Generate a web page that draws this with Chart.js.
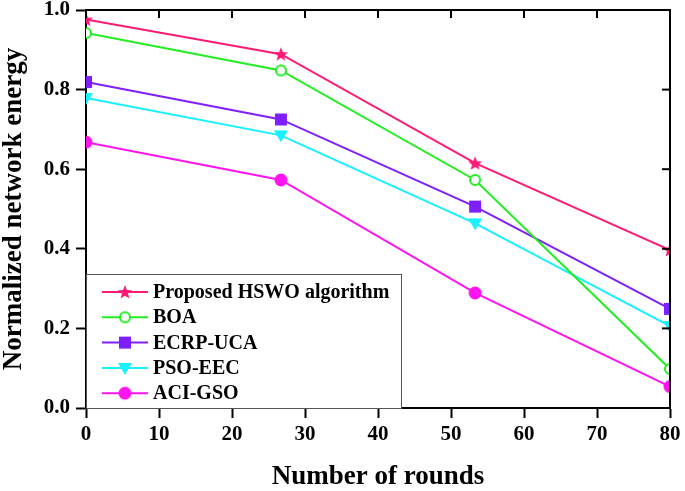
<!DOCTYPE html>
<html>
<head>
<meta charset="UTF-8">
<title>Normalized network energy</title>
<script src="https://cdn.jsdelivr.net/npm/chart.js@4"></script>
<style>
  body { margin: 0; background: #fff; }
  #wrap { width: 685px; height: 491px; }
</style>
</head>
<body>
<div id="wrap"><canvas id="energyChart"></canvas></div>
<script>
// data
const rounds = [0, 26.7, 53.3, 80];
const seriesNames = ["Proposed HSWO algorithm", "BOA", "ECRP-UCA", "PSO-EEC", "ACI-GSO"];
const hswo  = [0.976, 0.889, 0.615, 0.397];
const boa   = [0.942, 0.848, 0.573, 0.098];
const ecrp  = [0.819, 0.725, 0.506, 0.249];
const pso   = [0.779, 0.685, 0.464, 0.206];
const acigso = [0.668, 0.573, 0.289, 0.054];
const xTicks = [0, 10, 20, 30, 40, 50, 60, 70, 80];
const yTicks = [0.0, 0.2, 0.4, 0.6, 0.8, 1.0];

const FONT = '"Liberation Serif", "Times New Roman", serif';

// marker images
function makeMarker(type, color) {
  const c = document.createElement('canvas');
  c.width = 16; c.height = 16;
  const g = c.getContext('2d');
  g.fillStyle = color; g.strokeStyle = color;
  const cx = 8, cy = 8;
  if (type === 'star') {
    g.beginPath();
    for (let i = 0; i < 10; i++) {
      const r = i % 2 === 0 ? 7.5 : 3.2;
      const a = -Math.PI / 2 + i * Math.PI / 5;
      g.lineTo(cx + r * Math.cos(a), cy + 0.5 + r * Math.sin(a));
    }
    g.closePath(); g.fill();
  } else if (type === 'ocircle') {
    g.beginPath(); g.arc(cx, cy, 5, 0, Math.PI * 2);
    g.fillStyle = '#fff'; g.fill();
    g.lineWidth = 2; g.stroke();
  } else if (type === 'square') {
    g.fillRect(cx - 6, cy - 6, 12, 12);
  } else if (type === 'down') {
    g.beginPath(); g.moveTo(cx - 7, cy - 5); g.lineTo(cx + 7, cy - 5); g.lineTo(cx, cy + 7);
    g.closePath(); g.fill();
  } else {
    g.beginPath(); g.arc(cx, cy, 6.5, 0, Math.PI * 2); g.fill();
  }
  return c;
}

const colors = ['#ff1a75', '#22ee22', '#7f1fff', '#18f0ff', '#ff14f0'];
const markers = ['star', 'ocircle', 'square', 'down', 'dot'].map((t, i) => makeMarker(t, colors[i]));
const values = [hswo, boa, ecrp, pso, acigso];

const datasets = seriesNames.map((name, i) => ({
  label: name,
  data: rounds.map((r, k) => ({ x: r, y: values[i][k] })),
  borderColor: colors[i],
  backgroundColor: colors[i],
  borderWidth: 2,
  pointStyle: markers[i],
  pointRadius: 7,
  tension: 0,
  clip: 0
}));

// frame, inner ticks on top/right, and boxed legend
const framePlugin = {
  id: 'frame',
  afterDraw(chart) {
    const { ctx, chartArea: a, scales } = chart;
    ctx.save();
    // legend
    const lx = a.left, ly = 274, lw = 315, lh = a.bottom - 274;
    ctx.fillStyle = '#fff';
    ctx.fillRect(lx, ly, lw, lh);
    ctx.strokeStyle = '#555'; ctx.lineWidth = 1;
    ctx.strokeRect(lx + 0.5, ly + 0.5, lw, lh);
    ctx.font = 'bold 20px ' + FONT;
    ctx.textBaseline = 'middle';
    seriesNames.forEach((name, i) => {
      const y = 292 + i * 25.3;
      ctx.strokeStyle = colors[i]; ctx.lineWidth = 2;
      ctx.beginPath(); ctx.moveTo(lx + 16, y); ctx.lineTo(lx + 62, y); ctx.stroke();
      ctx.drawImage(markers[i], lx + 39 - 8, y - 8);
      ctx.fillStyle = '#000';
      ctx.fillText(name, lx + 67, y + 1);
    });
    // top and right borders
    ctx.strokeStyle = '#000'; ctx.lineWidth = 2;
    ctx.beginPath();
    ctx.moveTo(a.left, a.top); ctx.lineTo(a.right, a.top); ctx.lineTo(a.right, a.bottom);
    ctx.stroke();
    xTicks.forEach(v => {
      const px = scales.x.getPixelForValue(v);
      ctx.beginPath(); ctx.moveTo(px, a.top); ctx.lineTo(px, a.top + 8); ctx.stroke();
    });
    yTicks.forEach(v => {
      const py = scales.y.getPixelForValue(v);
      ctx.beginPath(); ctx.moveTo(a.right, py); ctx.lineTo(a.right - 8, py); ctx.stroke();
    });
    ctx.restore();
  }
};

new Chart(document.getElementById('energyChart'), {
  type: 'line',
  data: { datasets },
  options: {
    responsive: true,
    maintainAspectRatio: false,
    animation: false,
    devicePixelRatio: 1,
    layout: { padding: { top: 10, right: 15, left: 0, bottom: 0 } },
    plugins: { legend: { display: false }, tooltip: { enabled: false } },
    scales: {
      x: {
        type: 'linear', min: 0, max: 80,
        afterBuildTicks: s => { s.ticks = xTicks.map(v => ({ value: v })); },
        afterFit: s => { s.height = 83; s.paddingLeft = 0; s.paddingRight = 0; },
        ticks: { color: '#000', font: { family: FONT, size: 21, weight: 'bold' }, padding: 4 },
        grid: { drawOnChartArea: false, tickLength: 10, tickWidth: 2, tickColor: '#000' },
        border: { color: '#000', width: 2 },
        title: { display: true, text: 'Number of rounds', color: '#000',
                 font: { family: FONT, size: 27, weight: 'bold', lineHeight: 1 }, padding: { top: 0, bottom: 0 } }
      },
      y: {
        min: 0, max: 1,
        afterBuildTicks: s => { s.ticks = yTicks.map(v => ({ value: v })); },
        afterFit: s => { s.width = 86; s.paddingTop = 0; s.paddingBottom = 0; },
        ticks: { color: '#000', font: { family: FONT, size: 21, weight: 'bold' }, padding: 6,
                 callback: v => v.toFixed(1) },
        grid: { drawOnChartArea: false, tickLength: 10, tickWidth: 2, tickColor: '#000' },
        border: { color: '#000', width: 2 },
        title: { display: true, text: 'Normalized network energy', color: '#000',
                 font: { family: FONT, size: 27, weight: 'bold', lineHeight: 1 }, padding: { top: 1, bottom: 0 } }
      }
    }
  },
  plugins: [framePlugin]
});
</script>
</body>
</html>
